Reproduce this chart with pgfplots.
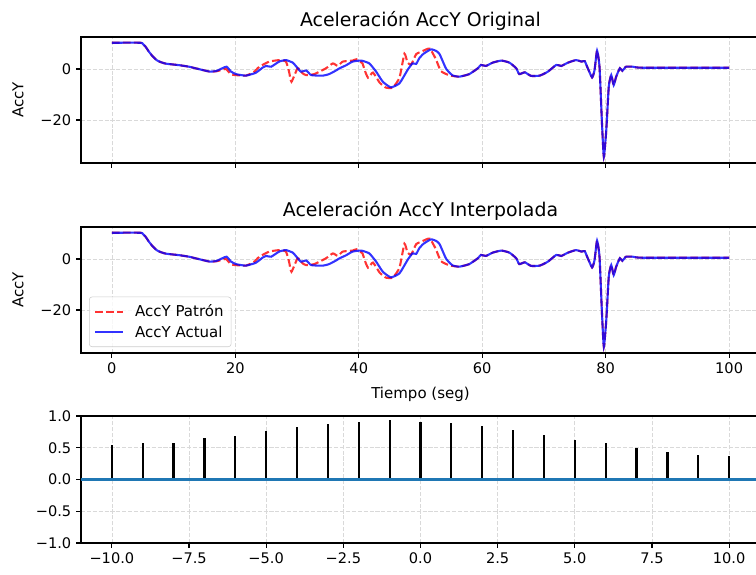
\documentclass[border=0pt]{standalone}
\usepackage{fontspec}
\setmainfont{DejaVu Sans}
\usepackage{pgfplots}
\pgfplotsset{compat=1.18}
\usepackage{pgfplotstable}

\definecolor{mplblue}{HTML}{1F77B4}

% AccY measured in the current run
\pgfplotstableread{
t v
0 10.3
4.6 10.3
5.0 9.9
5.5 8.6
6.0 6.8
6.6 5.0
7.2 3.6
7.7 2.9
8.75 2.1
10.9 1.5
12.5 0.9
14.2 -0.1
15.8 -1.0
16.9 -0.8
17.9 0.3
18.6 0.9
19.3 -1.0
20.1 -2.0
21.7 -2.6
23.3 -1.5
24.4 0.5
25.0 1.2
25.8 0.9
27.1 2.9
28.2 3.5
29.3 2.5
29.8 1.2
30.6 -1.0
31.5 -0.6
32.3 -2.4
34.2 -2.6
35.2 -2.0
36.3 -0.6
36.9 0.3
37.9 1.4
39.0 2.9
40.4 3.3
41.7 2.2
42.8 -1.0
43.9 -5.0
45.2 -7.2
46.6 -5.6
47.9 -0.4
48.7 2.2
49.3 2.0
49.8 4.2
50.5 6.0
51.7 7.7
52.6 7.0
53.1 5.8
53.7 2.5
54.2 -0.1
55.2 -2.5
56.3 -3.0
57.9 -2.0
59.3 0.3
59.8 1.6
60.6 1.2
61.7 2.5
63.1 3.3
64.4 2.5
65.5 0.3
66.0 -2.0
66.9 -1.3
67.9 -2.7
69.3 -2.6
70.6 -1.1
72.0 1.6
72.8 1.2
73.9 2.5
75.2 3.5
76.1 2.9
76.6 3.1
77.1 0.3
77.8 -3.3
78.2 -0.4
78.6 7.2
79.0 0.9
79.4 -21.3
79.7 -34.4
80.1 -23.9
80.5 -6.9
80.9 -2.4
81.3 -6.3
81.7 -3.0
82.3 0.3
82.7 -0.7
83.3 0.9
84.4 0.9
86.0 0.5
100 0.5
}\actual

% AccY of the reference pattern
\pgfplotstableread{
t v
0 10.3
4.6 10.3
5.0 9.9
5.5 8.6
6.0 6.8
6.6 5.0
7.2 3.6
7.7 2.9
8.75 2.1
10.9 1.5
12.5 0.9
14.2 -0.1
15.8 -1.0
16.9 -0.9
17.9 -0.3
18.5 0.0
19.3 -2.1
20.1 -2.4
21.7 -2.6
23.0 -1.2
23.9 0.9
25.5 2.9
27.2 3.5
28.2 2.9
28.7 -1.0
29.1 -5.0
30.1 0.3
30.9 -1.7
31.5 -2.4
32.8 -2.0
34.7 0.3
35.8 2.2
36.6 1.2
37.4 2.9
39.0 3.3
39.6 3.8
40.6 2.2
40.9 -0.1
41.5 -3.4
42.3 -1.4
43.4 -5.4
44.4 -7.3
45.5 -7.3
46.6 -3.4
47.4 6.0
47.9 2.5
48.5 1.8
49.3 5.8
50.4 7.1
51.5 8.0
52.5 3.8
53.3 -0.8
54.7 -2.5
56.3 -3.0
57.9 -2.0
59.3 0.3
59.8 1.6
60.6 1.2
61.7 2.5
63.1 3.3
64.4 2.5
65.5 0.3
66.0 -2.0
66.9 -1.3
67.9 -2.7
69.3 -2.6
70.6 -1.1
72.0 1.6
72.8 1.2
73.9 2.5
75.2 3.5
76.1 2.9
76.6 3.1
77.1 0.3
77.8 -3.3
78.2 -0.4
78.6 7.2
79.0 0.9
79.4 -21.3
79.7 -34.4
80.1 -23.9
80.5 -6.9
80.9 -2.4
81.3 -6.3
81.7 -3.0
82.3 0.3
82.7 -0.7
83.3 0.9
84.4 0.9
86.0 0.5
100 0.5
}\patron

% cross-correlation per lag
\pgfplotstableread{
lag r
-10 0.54
-9 0.57
-8 0.58
-7 0.65
-6 0.69
-5 0.76
-4 0.82
-3 0.87
-2 0.91
-1 0.93
0 0.91
1 0.885
2 0.85
3 0.78
4 0.695
5 0.625
6 0.57
7 0.50
8 0.44
9 0.39
10 0.37
}\corr

% zero line under the stems
\pgfplotstableread{
lag r
-11 0
11 0
}\baseline

\pgfplotsset{
  mplaxis/.style={
    scale only axis,
    width=488.88pt,
    axis line style={line width=0.8pt},
    tick align=outside, tick pos=left,
    major tick length=3.5pt,
    every tick/.style={black, line width=0.8pt},
    grid=major,
    grid style={black!15, line width=0.5pt, dash pattern=on 2.96pt off 1.28pt},
    tick label style={font=\fontsize{10.5}{12}\selectfont},
    label style={font=\fontsize{10.8}{13}\selectfont},
    title style={font=\fontsize{13.6}{16}\selectfont, at={(axis description cs:0.5,1)}, anchor=base, yshift=1.9pt},
  },
  accaxis/.style={
    mplaxis,
    height=90.72pt,
    xmin=-5, xmax=105, ymin=-36.86, ymax=12.55,
    xtick={0,20,40,60,80,100},
    ytick={-20,0}, yticklabels={−20,0},
    ylabel={AccY},
    ylabel style={at={(axis description cs:-0.0928,0.5)}, anchor=center},
  },
  patron/.style={red, opacity=0.8, line width=1.5pt, dash pattern=on 5.55pt off 2.4pt, smooth, tension=0.3},
  actual/.style={blue, opacity=0.8, line width=1.5pt, smooth, tension=0.3},
}

\begin{document}
\begin{tikzpicture}
\path[use as bounding box, clip] (0,0) rectangle (544.32pt,413.28pt);

% original signals
\begin{axis}[accaxis,
  at={(58.32pt,295.92pt)}, anchor=south west,
  xticklabels={},
  title={Aceleración AccY Original}]
\addplot[patron] table[x=t, y=v] {\patron};
\addplot[actual] table[x=t, y=v] {\actual};
\end{axis}

% interpolated signals
\begin{axis}[accaxis,
  at={(58.32pt,159.12pt)}, anchor=south west,
  xticklabels={0,20,40,60,80,100},
  xlabel={Tiempo (seg)},
  xlabel style={at={(axis description cs:0.5,-0.325)}, anchor=center},
  title={Aceleración AccY Interpolada},
  legend style={at={(axis description cs:0.0118,0.0476)}, anchor=south west,
    draw=black!20, fill=white, fill opacity=0.8, text opacity=1,
    rounded corners=2pt, font=\fontsize{10.8}{13}\selectfont,
    row sep=1pt, inner xsep=3.5pt, inner ysep=3.5pt,
    /tikz/every odd column/.append style={column sep=6pt}},
  legend cell align=left,
  legend image code/.code={\draw[#1] (0pt,0pt) -- (20pt,0pt);}]
\addplot[patron] table[x=t, y=v] {\patron};
\addlegendentry{AccY Patrón}
\addplot[actual] table[x=t, y=v] {\actual};
\addlegendentry{AccY Actual}
\end{axis}

% correlation by lag
\begin{axis}[mplaxis,
  at={(58.32pt,22.32pt)}, anchor=south west,
  height=91.44pt,
  xmin=-11, xmax=11, ymin=-1, ymax=1,
  xtick={-10,-7.5,-5,-2.5,0,2.5,5,7.5,10},
  xticklabels={−10.0,−7.5,−5.0,−2.5,0.0,2.5,5.0,7.5,10.0},
  ytick={-1,-0.5,0,0.5,1},
  yticklabels={−1.0,−0.5,0.0,0.5,1.0}]
\addplot[draw=black, line width=1.6pt, ycomb, mark=none] table[x=lag, y=r] {\corr};
\addplot[draw=mplblue, line width=1.5pt, mark=none] table[x=lag, y=r] {\baseline};
\end{axis}
\end{tikzpicture}
\end{document}
